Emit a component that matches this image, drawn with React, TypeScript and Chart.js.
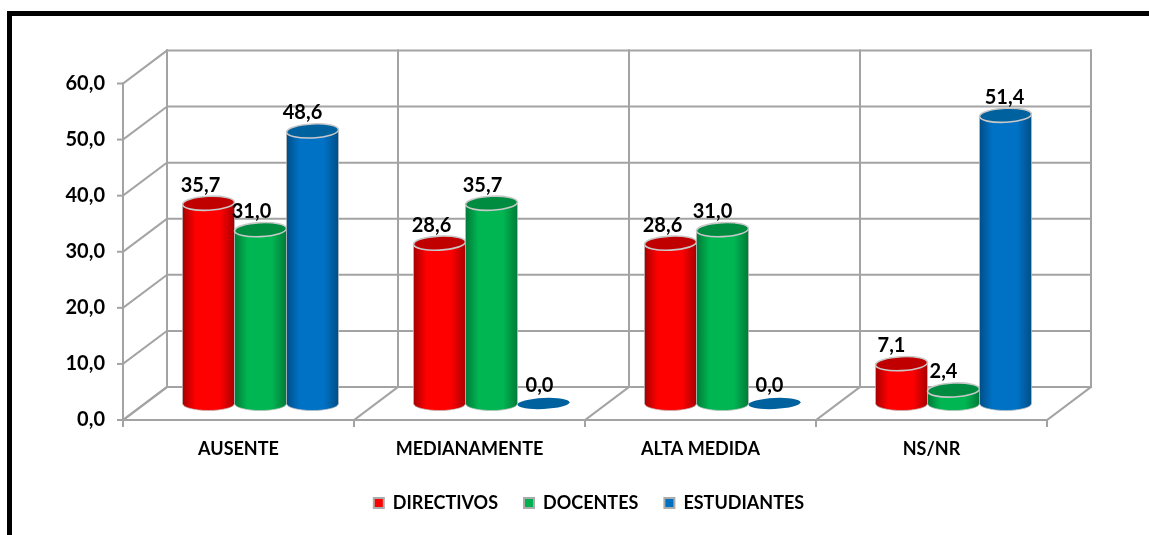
import React, { useEffect, useRef } from "react";
import { Chart, registerables } from "chart.js";

Chart.register(...registerables);

const categories = ["AUSENTE", "MEDIANAMENTE", "ALTA MEDIDA", "NS/NR"];
const directivos = [35.7, 28.6, 28.6, 7.1];
const docentes = [31.0, 35.7, 31.0, 2.4];
const estudiantes = [48.6, 0.0, 0.0, 51.4];
const yTicksMax = 60;
const yTicksStep = 10;

const DX = 22;
const DY = 16.5;
const GRID = "#A3A3A3";
const FONT = "Lato, Carlito, sans-serif";

const fmt = (v: number) => v.toFixed(1).replace(".", ",");

const palette = [
  { edge: "#A80000", mid: "#FF0000", top: "#C00000" },
  { edge: "#007A38", mid: "#00B652", top: "#008C40" },
  { edge: "#004E86", mid: "#0072C6", top: "#00619F" },
];

// nudges of the value labels relative to the top of each bar (same order as the series)
const labelNudge = [
  [-8, -8, -8, -10],
  [-9, -9, -10, -10],
  [-10, -4, -5, -1],
];

const drawBar = (ctx: any, bar: any, colors: any) => {
  const { x, y, base, width } = bar.getProps(["x", "y", "base", "width"], true);
  const rx = width / 2;
  const ry = 7;
  ctx.save();
  if (base - y < 0.5) {
    ctx.fillStyle = colors.top;
    ctx.beginPath();
    ctx.ellipse(x, y, rx, 5.5, -0.05, 0, Math.PI * 2);
    ctx.fill();
    ctx.restore();
    return;
  }
  const g = ctx.createLinearGradient(x - rx, 0, x + rx, 0);
  g.addColorStop(0, colors.edge);
  g.addColorStop(0.25, colors.mid);
  g.addColorStop(0.72, colors.mid);
  g.addColorStop(1, colors.edge);
  ctx.fillStyle = g;
  ctx.beginPath();
  ctx.moveTo(x - rx, y);
  ctx.lineTo(x - rx, base);
  ctx.ellipse(x, base, rx, ry, 0, Math.PI, 0, true);
  ctx.lineTo(x + rx, y);
  ctx.closePath();
  ctx.fill();
  ctx.strokeStyle = "rgba(190,190,190,0.7)";
  ctx.lineWidth = 1;
  ctx.stroke();
  ctx.fillStyle = colors.top;
  ctx.strokeStyle = "#C9C9C9";
  ctx.lineWidth = 1.6;
  ctx.beginPath();
  ctx.ellipse(x, y, rx, ry, -0.05, 0, Math.PI * 2);
  ctx.fill();
  ctx.stroke();
  ctx.restore();
};

const cylinderPlugin = {
  id: "cylinders",
  afterLayout(chart: any) {
    chart.legend.left += 22;
    chart.legend.right += 22;
  },
  beforeDraw(chart: any) {
    const { ctx, width, height } = chart;
    ctx.save();
    ctx.fillStyle = "#FFFFFF";
    ctx.fillRect(0, 0, width, height);
    ctx.fillStyle = "#000000";
    ctx.fillRect(7, 11, width - 7, 5);
    ctx.fillRect(7, 11, 5, height - 11);
    ctx.restore();
  },
  beforeDatasetsDraw(chart: any) {
    const { ctx, scales } = chart;
    const x = scales.x;
    const y = scales.y;
    const half = (x.getPixelForValue(1) - x.getPixelForValue(0)) / 2;
    const y0 = y.getPixelForValue(0);
    const yTop = y.getPixelForValue(yTicksMax);
    const line = (a: number, b: number, c: number, d: number) => {
      ctx.beginPath();
      ctx.moveTo(a, b);
      ctx.lineTo(c, d);
      ctx.stroke();
    };
    const left = x.getPixelForValue(0) - half;
    const right = x.getPixelForValue(categories.length - 1) + half;
    ctx.save();
    ctx.strokeStyle = GRID;
    ctx.lineWidth = 2;
    ctx.lineCap = "square";
    y.ticks.forEach((t: any) => {
      const p = y.getPixelForValue(t.value);
      line(left + DX, p - DY, right + DX, p - DY);
      line(left - DX, p + DY, left + DX, p - DY);
      line(left - DX - 5, p + DY, left - DX, p + DY);
    });
    for (let i = 0; i <= categories.length; i++) {
      const c = left + i * half * 2;
      line(c + DX, yTop - DY, c + DX, y0 - DY);
      line(c - DX, y0 + DY, c + DX, y0 - DY);
      line(c - DX, y0 + DY, c - DX, y0 + DY + 6);
    }
    line(left - DX, yTop + DY, left - DX, y0 + DY);
    line(left - DX, y0 + DY, right - DX, y0 + DY);
    ctx.restore();
    chart.data.datasets.forEach((_: any, di: number) => {
      chart.getDatasetMeta(di).data.forEach((bar: any) => drawBar(ctx, bar, palette[di]));
    });
  },
  beforeDatasetDraw() {
    return false;
  },
  afterDatasetsDraw(chart: any) {
    const { ctx, data } = chart;
    ctx.save();
    ctx.font = `bold 20px ${FONT}`;
    ctx.fillStyle = "#000000";
    ctx.textAlign = "center";
    ctx.textBaseline = "middle";
    data.datasets.forEach((ds: any, di: number) => {
      chart.getDatasetMeta(di).data.forEach((bar: any, i: number) => {
        ctx.fillText(fmt(ds.data[i]), bar.x + labelNudge[di][i], bar.y - 18);
      });
    });
    ctx.restore();
  },
};

export default function App() {
  const ref = useRef<HTMLCanvasElement>(null);
  useEffect(() => {
    const chart = new Chart(ref.current as HTMLCanvasElement, {
      type: "bar",
      plugins: [cylinderPlugin],
      data: {
        labels: categories,
        datasets: [
          { label: "DIRECTIVOS", data: directivos, backgroundColor: "#FF0000", borderColor: "#ABABAB", borderWidth: 2, barThickness: 52 },
          { label: "DOCENTES", data: docentes, backgroundColor: "#00B050", borderColor: "#ABABAB", borderWidth: 2, barThickness: 52 },
          { label: "ESTUDIANTES", data: estudiantes, backgroundColor: "#0070C0", borderColor: "#ABABAB", borderWidth: 2, barThickness: 52 },
        ],
      },
      options: {
        animation: false,
        responsive: false,
        layout: { padding: { left: 65, right: 80, top: 67, bottom: 13 } },
        plugins: {
          tooltip: { enabled: false },
          legend: {
            position: "bottom",
            labels: {
              boxWidth: 10,
              boxHeight: 10,
              padding: 26,
              color: "#000000",
              font: { family: FONT, weight: "bold", size: 18 },
            },
          },
        },
        scales: {
          x: {
            grid: { display: false, drawTicks: false },
            border: { display: false },
            afterFit: (s: any) => {
              s.height = 64.5;
            },
            ticks: {
              padding: 35,
              labelOffset: -DX,
              maxRotation: 0,
              color: "#000000",
              font: { family: FONT, weight: "bold", size: 18 },
            },
          },
          y: {
            min: 0,
            max: yTicksMax,
            grid: { display: false, drawTicks: false },
            border: { display: false },
            afterFit: (s: any) => {
              s.width = 80;
            },
            ticks: {
              stepSize: yTicksStep,
              padding: 40,
              labelOffset: DY,
              color: "#000000",
              font: { family: FONT, weight: "bold", size: 20 },
              callback: (v: any) => fmt(Number(v)),
            },
          },
        },
      },
    } as any);
    return () => chart.destroy();
  }, []);
  return (
    <div style={{ position: "fixed", left: 0, top: 0, width: 1149, height: 535, background: "#fff" }}>
      <canvas ref={ref} width={1149} height={535} style={{ display: "block", filter: "blur(0.4px)" }} />
    </div>
  );
}
